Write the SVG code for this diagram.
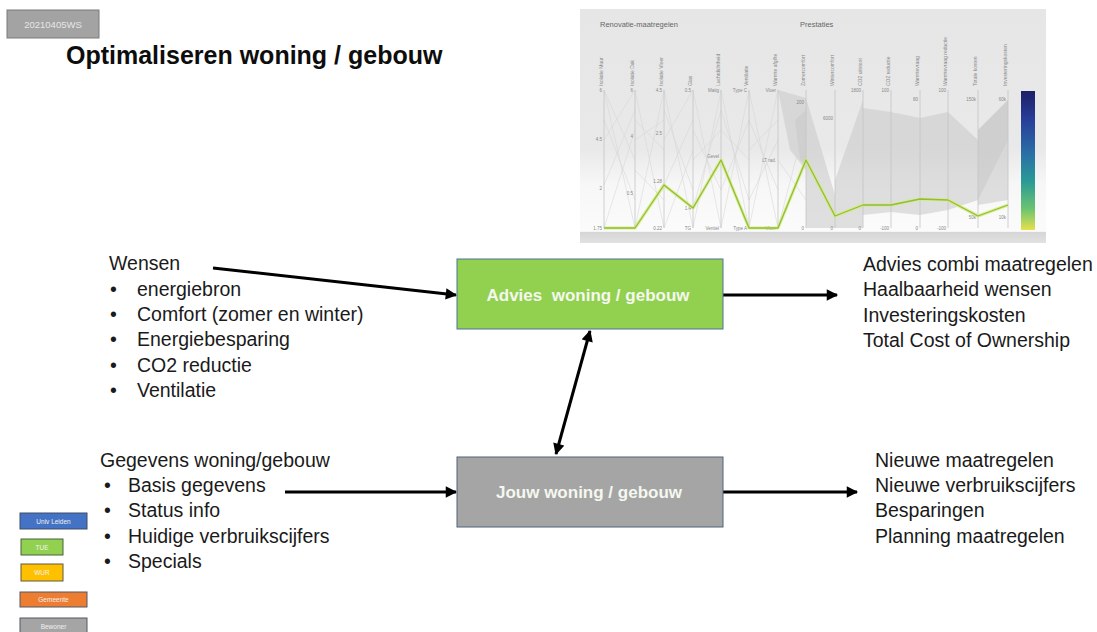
<svg xmlns="http://www.w3.org/2000/svg" width="1097" height="632" viewBox="0 0 1097 632">
<style>
text{font-family:"Liberation Sans",Arial,sans-serif;}
.lbl{font-size:19.5px;fill:#1a1a1a;}
.title{font-size:25px;font-weight:bold;fill:#0d0d0d;}
.box-text{font-size:17px;font-weight:bold;fill:#f4f8ee;}
.conn{stroke:#000;stroke-width:3;fill:none;}
.axis{stroke:#c4c4c4;stroke-width:0.8;}
.thin{stroke:#d2d2d2;stroke-width:0.5;fill:none;}
.tick{font-size:4.5px;fill:#888;}
.ax-lbl{font-size:5px;fill:#888;}
.leg{font-size:6.5px;fill:#f2f2f2;text-anchor:middle;}
.shade{fill:#c9c9c9;opacity:0.55;}
</style>
<defs>
<marker id="arr" viewBox="0 0 10 10" refX="9" refY="5" markerWidth="4.4" markerHeight="3.8" orient="auto-start-reverse" markerUnits="strokeWidth">
<path d="M0,0 L10,5 L0,10 z" fill="#000"/>
</marker>
<linearGradient id="chartBg" x1="0" y1="0" x2="0" y2="1">
<stop offset="0" stop-color="#e6e6e6"/>
<stop offset="0.6" stop-color="#e9e9e9"/>
<stop offset="0.75" stop-color="#f7f7f7"/>
<stop offset="0.95" stop-color="#fbfbfb"/>
<stop offset="0.955" stop-color="#d6d6d6"/>
<stop offset="1" stop-color="#e2e2e2"/>
</linearGradient>
<linearGradient id="cbar" x1="0" y1="0" x2="0" y2="1">
<stop offset="0" stop-color="#1f1f66"/>
<stop offset="0.2" stop-color="#283c98"/>
<stop offset="0.45" stop-color="#2a6fa6"/>
<stop offset="0.65" stop-color="#2a9a96"/>
<stop offset="0.85" stop-color="#6cc470"/>
<stop offset="1" stop-color="#e6e04c"/>
</linearGradient>
</defs>
<rect width="1097" height="632" fill="#ffffff"/>

<!-- top-left tag -->
<g id="tag">
<rect x="7" y="10" width="92" height="28" fill="#a3a3a3" stroke="#7a7a7a" stroke-width="1"/>
<text x="53" y="28" font-size="9.5" fill="#e6e6e6" text-anchor="middle">20210405WS</text>
</g>

<text class="title" x="66" y="64">Optimaliseren woning / gebouw</text>

<!-- embedded chart (parallel coordinates) -->
<g id="chart">
<rect x="580" y="9" width="466" height="234" fill="url(#chartBg)"/>
<text x="600" y="27" font-size="7.5" fill="#666">Renovatie-maatregelen</text>
<text x="800" y="27" font-size="7.5" fill="#666">Prestaties</text>
<!-- shaded regions -->
<polygon class="shade" points="778,90 806,98 806,170 790,150"/>
<polygon class="shade" points="795,120 806,110 806,165 800,160"/>
<polygon class="shade" points="806,98 806,228 835,228 835,195"/>
<polygon class="shade" points="835,228 835,180 863,100 863,228"/>
<polygon class="shade" points="863,108 891,112 920,118 948,112 978,140 978,200 948,210 920,215 891,212 863,215"/>
<polygon class="shade" points="978,130 1008,100 1008,140 978,200"/>
<polygon class="shade" points="1008,100 1008,200 978,205 978,130" opacity="0.3"/>
<!-- thin crossing lines -->
<g class="thin">
<path d="M604,90 L635,228 M604,90 L635,160 M604,140 L635,90 M604,228 L635,130 M604,185 L635,110 M604,120 L635,200"/>
<path d="M635,90 L664,228 M635,120 L664,150 M635,228 L664,90 M635,170 L664,200 M635,140 L664,120"/>
<path d="M664,90 L693,228 M664,140 L693,90 M664,228 L693,150 M664,185 L693,120 M664,110 L693,190"/>
<path d="M693,90 L721,228 M693,228 L721,90 M693,160 L721,130 M693,130 L721,190 M693,208 L721,110"/>
<path d="M721,90 L749,228 M721,228 L749,90 M721,130 L749,160 M721,190 L749,120 M721,110 L749,200"/>
<path d="M749,90 L778,228 M749,228 L778,90 M749,150 L778,120 M749,120 L778,190 M749,200 L778,140"/>
<path d="M778,90 L806,150 M778,160 L806,200 M778,228 L806,120"/>
</g>
<!-- axes -->
<g class="axis">
<line x1="604" y1="90" x2="604" y2="228"/><line x1="635" y1="90" x2="635" y2="228"/>
<line x1="664" y1="90" x2="664" y2="228"/><line x1="693" y1="90" x2="693" y2="228"/>
<line x1="721" y1="90" x2="721" y2="228"/><line x1="749" y1="90" x2="749" y2="228"/>
<line x1="778" y1="90" x2="778" y2="228"/><line x1="806" y1="90" x2="806" y2="228"/>
<line x1="835" y1="90" x2="835" y2="228"/><line x1="863" y1="90" x2="863" y2="228"/>
<line x1="891" y1="90" x2="891" y2="228"/><line x1="920" y1="90" x2="920" y2="228"/>
<line x1="948" y1="90" x2="948" y2="228"/><line x1="978" y1="90" x2="978" y2="228"/>
<line x1="1008" y1="90" x2="1008" y2="228"/>
</g>
<!-- axis labels (rotated) -->
<g class="ax-lbl" text-anchor="start">
<text transform="translate(603,86) rotate(-90)">Isolatie Muur</text>
<text transform="translate(634,86) rotate(-90)">Isolatie Dak</text>
<text transform="translate(663,86) rotate(-90)">Isolatie Vloer</text>
<text transform="translate(692,86) rotate(-90)">Glas</text>
<text transform="translate(720,86) rotate(-90)">Luchtdichtheid</text>
<text transform="translate(748,86) rotate(-90)">Ventilatie</text>
<text transform="translate(777,86) rotate(-90)">Warmte afgifte</text>
<text transform="translate(805,86) rotate(-90)">Zomercomfort</text>
<text transform="translate(834,86) rotate(-90)">Wintercomfort</text>
<text transform="translate(862,86) rotate(-90)">CO2 uitstoot</text>
<text transform="translate(890,86) rotate(-90)">CO2 reductie</text>
<text transform="translate(919,86) rotate(-90)">Warmtevraag</text>
<text transform="translate(947,86) rotate(-90)">Warmtevraag reductie</text>
<text transform="translate(977,86) rotate(-90)">Totale kosten</text>
<text transform="translate(1007,86) rotate(-90)">Investeringskosten</text>
</g>
<!-- tick labels -->
<g class="tick" text-anchor="end">
<text x="602" y="92">6</text><text x="633" y="92">6</text><text x="662" y="92">4.5</text>
<text x="691" y="92">0.5</text><text x="719" y="92">Matig</text><text x="747" y="92">Type C</text>
<text x="776" y="92">Vloer</text><text x="602" y="141">4.5</text><text x="633" y="138">4</text>
<text x="662" y="135">2.5</text><text x="602" y="190">2</text><text x="633" y="195">0.5</text>
<text x="662" y="183">1.28</text><text x="691" y="210">1.4</text><text x="719" y="158">Gevel</text>
<text x="776" y="162">LT rad.</text><text x="602" y="230">1.75</text><text x="662" y="230">0.22</text>
<text x="691" y="230">TG</text><text x="719" y="230">Ventiel</text><text x="747" y="230">Type A</text>
<text x="776" y="230">Vloer</text><text x="804" y="104">200</text><text x="804" y="230">0</text>
<text x="833" y="120">6000</text><text x="833" y="230">0</text><text x="861" y="92">1800</text>
<text x="861" y="230">0</text><text x="889" y="92">100</text><text x="889" y="230">-100</text>
<text x="918" y="101">80</text><text x="918" y="230">0</text><text x="946" y="92">100</text>
<text x="946" y="230">-100</text><text x="976" y="101">150k</text><text x="976" y="219">50k</text>
<text x="1006" y="101">60k</text><text x="1006" y="219">10k</text>
</g>
<!-- highlighted line -->
<polyline points="604,228 635,228 664,185 693,208 721,160 749,228 778,228 806,160 835,216 863,205 891,205 920,199 948,200 978,216 1008,205" fill="none" stroke="#d8e878" stroke-width="3.2" stroke-linejoin="round" opacity="0.8"/>
<polyline points="604,228 635,228 664,185 693,208 721,160 749,228 778,228 806,160 835,216 863,205 891,205 920,199 948,200 978,216 1008,205" fill="none" stroke="#8cc03a" stroke-width="1.3" stroke-linejoin="round"/>
<!-- colour bar -->
<rect x="1021" y="91" width="14" height="139" fill="url(#cbar)"/>
</g>

<!-- connectors -->
<g id="connectors">
<line class="conn" x1="213" y1="268" x2="456" y2="295" marker-end="url(#arr)"/>
<line class="conn" x1="723" y1="295" x2="837" y2="295" marker-end="url(#arr)"/>
<line class="conn" x1="556" y1="454" x2="590" y2="331" marker-start="url(#arr)" marker-end="url(#arr)"/>
<line class="conn" x1="285" y1="492" x2="456" y2="492" marker-end="url(#arr)"/>
<line class="conn" x1="723" y1="492" x2="857" y2="492" marker-end="url(#arr)"/>
</g>

<!-- nodes -->
<g id="advies">
<rect x="457" y="259" width="266" height="70" fill="#92d050" stroke="#4f7396" stroke-width="1"/>
<text class="box-text" x="588" y="301" text-anchor="middle" xml:space="preserve">Advies  woning / gebouw</text>
</g>
<g id="jouw">
<rect x="457" y="457" width="266" height="70" fill="#a5a5a5" stroke="#4f6478" stroke-width="1"/>
<text class="box-text" x="589" y="498" text-anchor="middle">Jouw woning / gebouw</text>
</g>

<g id="wensen">
<text class="lbl" x="109" y="270">Wensen</text>
<text class="lbl" x="110" y="296">•</text><text class="lbl" x="137" y="296">energiebron</text>
<text class="lbl" x="110" y="321">•</text><text class="lbl" x="137" y="321">Comfort (zomer en winter)</text>
<text class="lbl" x="110" y="346">•</text><text class="lbl" x="137" y="346">Energiebesparing</text>
<text class="lbl" x="110" y="372">•</text><text class="lbl" x="137" y="372">CO2 reductie</text>
<text class="lbl" x="110" y="397">•</text><text class="lbl" x="137" y="397">Ventilatie</text>
</g>

<g id="gegevens">
<text class="lbl" x="100" y="467">Gegevens woning/gebouw</text>
<text class="lbl" x="104" y="492">•</text><text class="lbl" x="128" y="492">Basis gegevens</text>
<text class="lbl" x="104" y="517">•</text><text class="lbl" x="128" y="517">Status info</text>
<text class="lbl" x="104" y="543">•</text><text class="lbl" x="128" y="543">Huidige verbruikscijfers</text>
<text class="lbl" x="104" y="568">•</text><text class="lbl" x="128" y="568">Specials</text>
</g>

<g id="advies-output">
<text class="lbl" x="863" y="271">Advies combi maatregelen</text>
<text class="lbl" x="863" y="296">Haalbaarheid wensen</text>
<text class="lbl" x="863" y="322">Investeringskosten</text>
<text class="lbl" x="863" y="347">Total Cost of Ownership</text>
</g>

<g id="jouw-output">
<text class="lbl" x="875" y="467">Nieuwe maatregelen</text>
<text class="lbl" x="875" y="492">Nieuwe verbruikscijfers</text>
<text class="lbl" x="875" y="517">Besparingen</text>
<text class="lbl" x="875" y="543">Planning maatregelen</text>
</g>

<!-- legend -->
<g id="legend">
<rect x="20" y="513" width="67" height="16" fill="#4472c4" stroke="#3d4f66" stroke-width="1"/>
<text class="leg" x="53.5" y="523.5">Univ Leiden</text>
<rect x="21" y="539" width="42" height="16" fill="#92d050" stroke="#4a6040" stroke-width="1"/>
<text class="leg" x="42" y="549.5">TUE</text>
<rect x="21" y="564" width="42" height="17" fill="#ffc000" stroke="#5f5a40" stroke-width="1"/>
<text class="leg" x="42" y="575">WUR</text>
<rect x="20" y="592" width="67" height="15" fill="#ed7d31" stroke="#4f5a66" stroke-width="1"/>
<text class="leg" x="53.5" y="602">Gemeente</text>
<rect x="20" y="618" width="67" height="16" fill="#a5a5a5" stroke="#4f5a66" stroke-width="1"/>
<text class="leg" x="53.5" y="628.5">Bewoner</text>
</g>
</svg>
